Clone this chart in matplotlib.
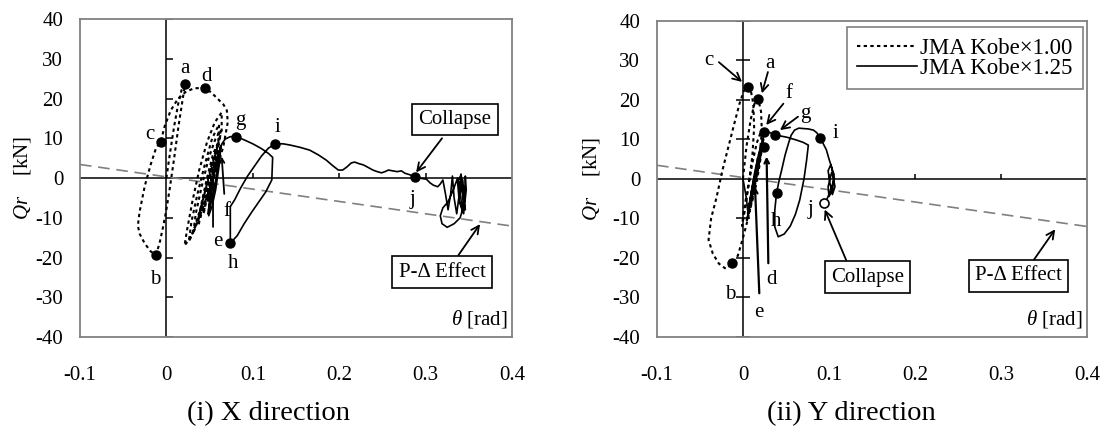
import matplotlib
matplotlib.use("Agg")
import matplotlib.pyplot as plt
from matplotlib.lines import Line2D

plt.rcParams["font.family"] = ["Liberation Serif", "DejaVu Serif"]
plt.rcParams["mathtext.fontset"] = "custom"
plt.rcParams["mathtext.rm"] = "Liberation Serif"
plt.rcParams["mathtext.it"] = "Liberation Serif:italic"
plt.rcParams["axes.unicode_minus"] = False

# ---------- axes ----------
x_ticks = [-0.1, 0.0, 0.1, 0.2, 0.3, 0.4]
x_tick_labels = ["-0.1", "0", "0.1", "0.2", "0.3", "0.4"]
y_ticks = [-40, -30, -20, -10, 0, 10, 20, 30, 40]

# P-Delta line (both panels)
pd_x = [-0.1, 0.4]
pd_y = [3.4, -12.1]

# ---------- (i) X direction ----------
# JMA Kobe x1.00 (dotted)
x1_theta = [0.000, 0.004, 0.009, 0.014, 0.018, 0.0215, 0.019, 0.014, 0.009, 0.004,
            0.000, -0.004, -0.008, -0.012, -0.018, -0.025, -0.031, -0.033, -0.031,
            -0.025, -0.018, -0.012, -0.0066, -0.002, 0.005, 0.013, 0.022, 0.032,
            0.045, 0.052, 0.060, 0.066, 0.070, 0.071, 0.066, 0.058, 0.048, 0.038,
            0.028, 0.021, 0.024, 0.030, 0.038, 0.047, 0.056, 0.064, 0.064, 0.057,
            0.048, 0.039, 0.031, 0.026, 0.029, 0.036, 0.044, 0.053, 0.061, 0.060,
            0.052, 0.044, 0.036, 0.031, 0.034, 0.041, 0.049, 0.057, 0.063, 0.059,
            0.051, 0.043, 0.037, 0.041, 0.047, 0.054, 0.060, 0.056, 0.049, 0.043,
            0.047, 0.052, 0.057, 0.053, 0.048, 0.051, 0.055, 0.052]
x1_q = [0.0, 6.0, 13.0, 19.0, 22.5, 23.6, 20.0, 13.0, 5.0, -2.5,
        -8.0, -12.5, -16.5, -19.3, -18.5, -16.5, -14.0, -12.0, -8.5,
        -2.0, 3.5, 7.5, 9.1, 13.0, 17.0, 19.8, 21.6, 22.6,
        22.6, 21.5, 19.8, 18.5, 17.0, 14.0, 8.0, 2.0, -4.0, -10.0,
        -15.0, -17.0, -13.0, -6.0, 2.0, 9.0, 14.0, 16.5, 12.0, 6.0,
        -1.0, -8.0, -13.5, -16.0, -11.0, -4.0, 3.0, 10.0, 13.5, 9.0,
        3.0, -4.0, -11.0, -14.0, -9.0, -2.0, 5.0, 10.0, 12.0, 6.0,
        0.0, -7.0, -12.0, -6.0, 0.0, 6.0, 9.0, 3.0, -3.0, -9.0,
        -4.0, 2.0, 6.0, 0.0, -6.0, -2.0, 3.0, -2.0]

# JMA Kobe x1.25 (solid)
x2_theta = [0.048, 0.052, 0.056, 0.060, 0.063, 0.061, 0.057, 0.053, 0.049, 0.051,
            0.055, 0.059, 0.063, 0.060, 0.056, 0.052, 0.049, 0.052, 0.056, 0.060,
            0.064, 0.068, 0.074, 0.081, 0.090, 0.100, 0.110, 0.118, 0.123, 0.122,
            0.115, 0.107, 0.099, 0.090, 0.082, 0.074, 0.074, 0.074, 0.079, 0.086,
            0.094, 0.102, 0.110, 0.118, 0.126, 0.135, 0.143, 0.155, 0.166, 0.176,
            0.185, 0.192, 0.199, 0.204, 0.209, 0.214, 0.218, 0.223, 0.228, 0.234,
            0.239, 0.244, 0.249, 0.253, 0.257, 0.262, 0.267, 0.272, 0.276, 0.282,
            0.288, 0.295, 0.301, 0.305, 0.309, 0.314, 0.317, 0.320, 0.323, 0.326,
            0.329, 0.331, 0.333, 0.336, 0.339, 0.341, 0.343, 0.344, 0.340, 0.333,
            0.325, 0.319, 0.317, 0.320, 0.326, 0.332, 0.337, 0.340, 0.342, 0.345,
            0.346, 0.347, 0.344, 0.339, 0.337, 0.341, 0.344, 0.346, 0.343, 0.340,
            0.343, 0.345, 0.342]
x2_q = [-9.0, -3.0, 2.0, 6.0, 7.5, 3.0, -3.0, -7.0, -9.5, -5.0,
        1.0, 5.0, 8.0, 4.0, -2.0, -6.0, -8.0, -3.0, 2.0, 6.0,
        8.5, 9.8, 10.4, 10.4, 9.6, 8.6, 7.4, 6.2, 5.2, -0.5,
        -3.5, -6.0, -8.5, -11.5, -14.5, -16.4, -12.0, -7.2, -5.5, -2.5,
        0.5, 3.0, 5.5, 7.5, 8.6, 8.6, 8.3, 7.7, 7.0, 5.8,
        4.5, 3.2, 2.0, 2.0, 2.8, 3.8, 4.0, 3.6, 3.3, 2.6,
        2.0, 1.6, 1.3, 1.6, 2.0, 1.8, 1.6, 1.8, 1.2, 0.8,
        0.2, -0.1, -0.3, -1.2, -1.8, -2.2, -1.5, -0.5, -4.0, -8.0,
        -4.0, 0.5, -5.0, -9.0, -4.0, 1.0, -3.0, -7.0, -10.0, -11.5,
        -12.4, -11.5, -9.5, -7.5, -6.0, -3.0, 0.0, -3.0, -8.0, -5.0,
        0.5, -3.0, -9.0, -6.0, -1.0, 0.8, -6.0, -8.0, -4.0, -1.0,
        -0.5, -6.0, -7.0]

x_dot_theta = [0.0215, 0.045, -0.0066, -0.012, 0.081, 0.126, 0.074, 0.288]
x_dot_q = [23.6, 22.6, 9.1, -19.3, 10.4, 8.6, -16.4, 0.2]

# ---------- (ii) Y direction ----------
y1_theta = [0.000, 0.004, 0.009, 0.014, 0.0178, 0.021, 0.022, 0.019, 0.013, 0.006,
            0.000, -0.006, -0.0124, -0.020, -0.028, -0.035, -0.040, -0.037, -0.031,
            -0.024, -0.017, -0.010, -0.004, 0.001, 0.0055, 0.009, 0.012, 0.013,
            0.011, 0.007, 0.003, -0.001, 0.001, 0.006, 0.011, 0.016, 0.021, 0.023,
            0.019, 0.014, 0.008, 0.004, 0.007, 0.012, 0.017, 0.021, 0.018, 0.013,
            0.008, 0.011, 0.015, 0.018, 0.015, 0.011]
y1_q = [0.0, 8.0, 15.0, 19.5, 20.2, 17.0, 12.0, 5.0, -3.0, -10.0,
        -15.0, -19.5, -21.4, -22.8, -21.5, -19.0, -15.5, -10.0, -5.0,
        2.0, 8.0, 14.0, 19.0, 22.2, 23.3, 22.5, 19.0, 13.0,
        6.0, -1.0, -7.0, -12.0, -8.0, -2.0, 4.0, 9.0, 12.0, 9.0,
        3.0, -3.0, -8.0, -11.0, -7.0, -1.0, 5.0, 8.0, 3.0, -3.0,
        -7.0, -3.0, 2.0, 5.0, 0.0, -4.0]

y2_theta = [0.000, 0.004, 0.006, 0.010, 0.014, 0.018, 0.022, 0.019, 0.014, 0.009,
            0.005, 0.009, 0.013, 0.017, 0.021, 0.024, 0.020, 0.015, 0.010, 0.006,
            0.010, 0.015, 0.020, 0.0248, 0.030, 0.037, 0.044, 0.051, 0.062, 0.070,
            0.076, 0.074, 0.071, 0.066, 0.061, 0.055, 0.048, 0.041, 0.037, 0.037,
            0.039, 0.042, 0.045, 0.049, 0.053, 0.056, 0.060, 0.065, 0.070, 0.076,
            0.082, 0.086, 0.0895, 0.093, 0.097, 0.100, 0.103, 0.105, 0.107, 0.104,
            0.101, 0.099, 0.102, 0.106, 0.104, 0.100, 0.099, 0.103, 0.106, 0.102,
            0.098, 0.094]
y2_q = [0.0, -5.0, -9.0, -3.0, 2.0, 6.0, 9.0, 4.0, -1.0, -6.0,
        -10.0, -5.0, 0.0, 4.0, 8.0, 10.0, 5.0, 0.0, -4.0, -8.0,
        -3.0, 2.0, 7.0, 11.9, 11.8, 11.1, 10.8, 10.5, 9.8, 9.2,
        8.5, 4.7, 0.0, -5.4, -9.0, -12.0, -14.0, -14.7, -12.2, -8.0,
        -3.7, -0.5, 2.2, 6.0, 9.0, 11.0, 12.3, 12.8, 12.7, 12.6,
        12.3, 11.6, 10.4, 9.0, 7.3, 5.0, 3.0, 0.2, -2.0, -4.0,
        -1.0, 2.0, 3.5, 1.0, -3.0, -4.5, -2.0, 1.5, 0.0, -3.0,
        -5.0, -6.1]

y_dot_theta = [0.0055, 0.0178, 0.0248, 0.037, 0.0248, 0.039, 0.0895, -0.0124]
y_dot_q = [23.3, 20.2, 11.9, 11.1, 7.9, -3.7, 10.4, -21.4]
y_open_theta = [0.094]
y_open_q = [-6.1]

DOT = dict(linestyle=(0, (1.6, 1.6)), color="black", lw=1.5)
SOLID = dict(linestyle="-", color="black", lw=1.2)
GRAY = "#808080"
FS = 15


def style(ax, cross):
    ax.set_xlim(-0.1, 0.4)
    ax.set_ylim(-40, 40)
    ax.set_xticks(x_ticks)
    ax.set_xticklabels(x_tick_labels)
    ax.set_yticks(y_ticks)
    ax.set_yticklabels([str(v) for v in y_ticks])
    ax.tick_params(length=0, labelsize=FS)
    ax.tick_params(axis="y", pad=12)
    ax.tick_params(axis="x", pad=21)
    for s in ax.spines.values():
        s.set_color(GRAY)
        s.set_linewidth(1.3)
    ax.axhline(0, color="black", lw=1.1, zorder=1)
    ax.axvline(0, color="black", lw=1.1, zorder=1)
    inner = [v for v in y_ticks if v != 0]
    if cross:
        ax.hlines(inner, -0.008, 0.008, color="black", lw=1.1, zorder=1)
    else:
        ax.hlines(inner, 0, 0.008, color="black", lw=1.1, zorder=1)
    ax.vlines([v for v in x_ticks if 0 < v < 0.4], 0, 1.3, color="black", lw=1.1, zorder=1)
    ax.plot(pd_x, pd_y, color=GRAY, lw=1.2, linestyle=(0, (7, 4)), zorder=2)
    ax.text(0.395, -35.5, r"$\theta$ [rad]", ha="right", va="center", fontsize=FS)


def arrow(ax, start, end, lw=1.3, ms=14):
    ax.annotate("", xy=end, xytext=start,
                arrowprops=dict(arrowstyle="->", lw=lw, color="black",
                                shrinkA=0, shrinkB=0, mutation_scale=ms), zorder=6)


def box(ax, x, y, s):
    ax.text(x, y, s, ha="center", va="center", fontsize=FS, zorder=7,
            bbox=dict(boxstyle="square,pad=0.3", fc="white", ec="black", lw=1.2))


fig = plt.figure(figsize=(11.03, 4.34), dpi=100)
axL = fig.add_axes([0.0725, 0.2235, 0.3917, 0.7327])
axR = fig.add_axes([0.5956, 0.2242, 0.3899, 0.7281])

# ----- left panel -----
style(axL, cross=False)
axL.plot(x1_theta, x1_q, zorder=3, **DOT)
axL.plot(x2_theta, x2_q, zorder=4, **SOLID)
axL.plot(x_dot_theta, x_dot_q, "o", color="black", ms=6.5, zorder=5)
for s, px, py in [("a", 0.0215, 27.5), ("d", 0.046, 25.5), ("c", -0.019, 11.0),
                  ("b", -0.013, -25.5), ("g", 0.085, 14.5), ("i", 0.128, 12.6),
                  ("e", 0.060, -16.0), ("h", 0.077, -21.5), ("f", 0.070, -8.5),
                  ("j", 0.285, -5.5)]:
    axL.text(px, py, s, ha="center", va="center", fontsize=FS, zorder=6)
arrow(axL, (0.054, -12.3), (0.054, -0.5), ms=8)
arrow(axL, (0.067, -4.0), (0.064, 5.4), ms=8)
box(axL, 0.334, 14.7, "Collapse")
arrow(axL, (0.319, 10.0), (0.289, 1.4))
box(axL, 0.319, -23.7, "P-Δ Effect")
arrow(axL, (0.338, -19.4), (0.363, -11.6))
axL.set_ylabel(r"$Qr$    [kN]", fontsize=FS)
axL.yaxis.set_label_coords(-0.109, 0.5)

# ----- right panel -----
style(axR, cross=True)
axR.plot(y1_theta, y1_q, zorder=3, **DOT)
axR.plot(y2_theta, y2_q, zorder=4, **SOLID)
axR.plot(y_dot_theta, y_dot_q, "o", color="black", ms=6.5, zorder=5)
axR.plot(y_open_theta, y_open_q, "o", mfc="white", mec="black", mew=1.2, ms=6.5, zorder=5)
for s, px, py in [("c", -0.040, 30.0), ("a", 0.031, 29.2), ("f", 0.054, 21.6),
                  ("g", 0.073, 16.5), ("i", 0.107, 11.5), ("h", 0.039, -10.9),
                  ("j", 0.078, -7.9), ("d", 0.033, -25.6), ("e", 0.018, -34.0),
                  ("b", -0.015, -29.4)]:
    axR.text(px, py, s, ha="center", va="center", fontsize=FS, zorder=6)
arrow(axR, (-0.028, 29.5), (-0.001, 24.5))
arrow(axR, (0.029, 27.0), (0.022, 21.6))
arrow(axR, (0.047, 19.0), (0.027, 13.6))
arrow(axR, (0.064, 15.7), (0.043, 12.3))
arrow(axR, (0.0295, -21.4), (0.0275, 5.6), lw=1.6, ms=8)
arrow(axR, (0.019, -29.0), (0.014, -2.0), lw=1.6, ms=8)
box(axR, 0.145, -24.9, "Collapse")
arrow(axR, (0.120, -20.6), (0.095, -7.8))
box(axR, 0.320, -24.6, "P-Δ Effect")
arrow(axR, (0.338, -20.6), (0.363, -12.8))
axR.set_ylabel(r"$Qr$    [kN]", fontsize=FS)
axR.yaxis.set_label_coords(-0.128, 0.5)

h1 = Line2D([], [], **DOT)
h2 = Line2D([], [], **SOLID)
leg = axR.legend([h1, h2], ["JMA Kobe×1.00", "JMA Kobe×1.25"], loc="upper right",
                 bbox_to_anchor=(0.991, 0.979), fontsize=16.5, frameon=True,
                 fancybox=False, framealpha=1, edgecolor=GRAY, handlelength=2.6,
                 handletextpad=0.15, borderpad=0.45, labelspacing=-0.05,
                 borderaxespad=0.0)
leg.get_frame().set_linewidth(1.2)

fig.text(0.243, 0.048, "(i) X direction", ha="center", va="center", fontsize=20.5)
fig.text(0.7715, 0.048, "(ii) Y direction", ha="center", va="center", fontsize=20.5)

fig.savefig("out.png", dpi=100)
